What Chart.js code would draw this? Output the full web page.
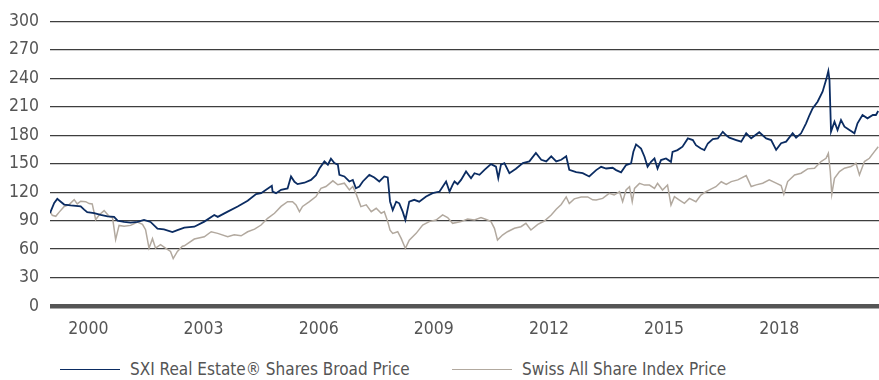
<!DOCTYPE html>
<html>
<head>
<meta charset="utf-8">
<script src="https://cdn.jsdelivr.net/npm/chart.js@4/dist/chart.umd.min.js"></script>
<style>
  html, body { margin: 0; padding: 0; background: #fff; }
  #wrap { position: relative; width: 879px; height: 380px; }
  #chart-box { position: absolute; left: 0; top: 0; width: 879px; height: 357px; }
  .legend { position: absolute; top: 357px; left: 0; width: 879px; height: 24px;
            font-family: "Liberation Sans Narrow", "DejaVu Sans Condensed", sans-serif;
            font-size: 17px; color: #555; }
  .legend-item { position: absolute; top: 0; display: flex; align-items: center; height: 24px; white-space: nowrap; }
  .legend-line { display: inline-block; width: 60px; height: 0; border-top: 1.5px solid; margin-right: 10px; }
</style>
</head>
<body>
<div id="wrap">
  <div id="chart-box"><canvas id="priceChart"></canvas></div>
  <div class="legend" id="price-legend"></div>
</div>
<script>
// SXI Real Estate Shares Broad (price) vs Swiss All Share (price), rebased to 100
const reYears = [
  1999.00, 1999.11, 1999.19, 1999.28, 1999.37, 1999.54, 1999.80, 1999.89, 1999.97, 2000.15,
  2000.32, 2000.50, 2000.67, 2000.76, 2000.93, 2001.10, 2001.28, 2001.45, 2001.62, 2001.80,
  2001.97, 2002.19, 2002.32, 2002.50, 2002.76, 2003.02, 2003.28, 2003.37, 2003.63, 2003.89,
  2004.15, 2004.37, 2004.50, 2004.63, 2004.78, 2004.80, 2004.89, 2005.02, 2005.19, 2005.28,
  2005.37, 2005.45, 2005.63, 2005.80, 2005.93, 2006.02, 2006.15, 2006.24, 2006.32, 2006.41,
  2006.50, 2006.54, 2006.67, 2006.80, 2006.89, 2006.97, 2007.06, 2007.15, 2007.32, 2007.45,
  2007.58, 2007.71, 2007.80, 2007.86, 2007.93, 2008.02, 2008.10, 2008.19, 2008.26, 2008.36,
  2008.49, 2008.62, 2008.80, 2008.97, 2009.15, 2009.32, 2009.41, 2009.49, 2009.54, 2009.62,
  2009.71, 2009.84, 2009.97, 2010.06, 2010.19, 2010.32, 2010.49, 2010.62, 2010.68, 2010.75,
  2010.84, 2010.97, 2011.14, 2011.32, 2011.49, 2011.66, 2011.80, 2011.93, 2012.06, 2012.19,
  2012.32, 2012.45, 2012.53, 2012.71, 2012.88, 2013.05, 2013.23, 2013.36, 2013.49, 2013.66,
  2013.75, 2013.88, 2014.01, 2014.14, 2014.20, 2014.27, 2014.40, 2014.49, 2014.57, 2014.66,
  2014.75, 2014.83, 2014.92, 2015.05, 2015.18, 2015.22, 2015.35, 2015.48, 2015.62, 2015.75,
  2015.83, 2015.96, 2016.05, 2016.14, 2016.27, 2016.40, 2016.53, 2016.62, 2016.70, 2016.88,
  2017.01, 2017.14, 2017.27, 2017.48, 2017.66, 2017.79, 2017.92, 2018.05, 2018.18, 2018.35,
  2018.44, 2018.57, 2018.70, 2018.79, 2018.87, 2019.00, 2019.13, 2019.22, 2019.28, 2019.31,
  2019.35, 2019.44, 2019.52, 2019.61, 2019.70, 2019.83, 2019.96, 2020.04, 2020.17, 2020.30,
  2020.44, 2020.52, 2020.58
];
const reValues = [
  98, 108.7, 113, 110, 107, 106, 105, 101.6, 99, 98,
  96, 94.6, 94, 90, 88.6, 88, 88.6, 90.7, 88.6, 81.5,
  80.8, 78, 80, 82.6, 83.6, 89, 96, 94, 99.5, 105,
  111, 118, 119, 122.5, 126.7, 120.7, 119, 122.5, 124, 136.6,
  131, 128.5, 130, 133, 138, 145, 152.5, 149, 155.3, 150.7,
  149, 138.3, 136.6, 131.3, 133, 124.2, 126, 131.3, 138.3, 135.5,
  131.3, 136.6, 135.5, 110, 101.2, 110, 108.3, 99.5, 90.7, 110,
  112, 110, 115.4, 119, 120.7, 131.3, 120.7, 127.8, 131.3, 128.5,
  133, 141.9, 134.8, 140, 138.3, 143.6, 149.6, 147, 134.8, 149,
  150.7, 140, 144.7, 150.7, 152.5, 161.3, 154.2, 152.5, 157.8, 152.5,
  154.2, 157.8, 143.6, 141.2, 140, 136.6, 143.3, 146.8, 145, 145.8,
  143.3, 141, 148.6, 150.4, 162.6, 170.4, 166, 157.4, 146.8, 152,
  155.6, 145, 153.9, 155.6, 152, 162.6, 164.4, 168, 176.7, 175,
  169.6, 166.1, 164.4, 171.4, 176, 176.7, 183.7, 180, 177.5, 175,
  173.3, 182.1, 176.8, 183.2, 176.8, 175, 164.6, 171.6, 173.3, 182.1,
  177.5, 182.1, 192.6, 201.4, 208.4, 215.4, 226, 238.2, 247.7, 238.2,
  183.9, 194.4, 185.6, 196.1, 189.1, 185.6, 182.1, 192.6, 201.4, 197.9,
  201.4, 201.4, 205.6
];

const sasYears = [
  1999.00, 1999.06, 1999.15, 1999.24, 1999.37, 1999.50, 1999.63, 1999.71, 1999.80, 1999.93,
  2000.02, 2000.10, 2000.19, 2000.28, 2000.41, 2000.54, 2000.63, 2000.71, 2000.80, 2000.93,
  2001.10, 2001.28, 2001.41, 2001.49, 2001.58, 2001.67, 2001.75, 2001.88, 2002.01, 2002.14,
  2002.21, 2002.32, 2002.45, 2002.50, 2002.76, 2003.02, 2003.20, 2003.37, 2003.63, 2003.80,
  2003.98, 2004.15, 2004.33, 2004.50, 2004.67, 2004.85, 2005.02, 2005.19, 2005.32, 2005.41,
  2005.50, 2005.58, 2005.76, 2005.93, 2006.06, 2006.19, 2006.37, 2006.50, 2006.67, 2006.80,
  2006.89, 2006.97, 2007.10, 2007.24, 2007.37, 2007.50, 2007.63, 2007.71, 2007.80, 2007.86,
  2007.93, 2008.06, 2008.15, 2008.26, 2008.36, 2008.54, 2008.71, 2008.88, 2009.06, 2009.23,
  2009.36, 2009.49, 2009.71, 2009.88, 2010.06, 2010.23, 2010.40, 2010.49, 2010.58, 2010.66,
  2010.79, 2010.92, 2011.10, 2011.27, 2011.40, 2011.53, 2011.71, 2011.88, 2012.06, 2012.19,
  2012.32, 2012.45, 2012.53, 2012.66, 2012.84, 2013.01, 2013.14, 2013.23, 2013.40, 2013.57,
  2013.70, 2013.84, 2013.92, 2014.01, 2014.10, 2014.17, 2014.23, 2014.36, 2014.49, 2014.62,
  2014.75, 2014.83, 2014.96, 2015.09, 2015.18, 2015.27, 2015.40, 2015.53, 2015.66, 2015.83,
  2015.96, 2016.09, 2016.22, 2016.35, 2016.49, 2016.62, 2016.75, 2016.92, 2017.14, 2017.27,
  2017.40, 2017.57, 2017.74, 2017.92, 2018.05, 2018.12, 2018.22, 2018.40, 2018.57, 2018.74,
  2018.92, 2019.09, 2019.22, 2019.28, 2019.33, 2019.37, 2019.44, 2019.57, 2019.70, 2019.87,
  2020.00, 2020.09, 2020.22, 2020.35, 2020.48, 2020.58
];
const sasValues = [
  99.9, 95.6, 94.6, 99, 105, 107, 112.2, 107.6, 110.5, 110,
  108, 107.6, 91, 96, 100.6, 94.6, 93, 70, 85, 84,
  85, 88.6, 86, 80.5, 61, 71, 61, 64.6, 61, 57.5,
  50, 57.5, 63, 63.5, 70.6, 73, 78.3, 76.6, 73, 75,
  74, 78.3, 81, 85.4, 92.5, 97.8, 105, 110, 110, 106.6,
  99.5, 105, 110, 115.4, 124, 126, 132, 127.8, 129.5, 122.5,
  126, 119, 104.8, 106.6, 99.5, 103, 97.8, 99.5, 89, 80,
  76.6, 78.3, 71.3, 60.7, 69.5, 76.6, 85.4, 89, 90.7, 96,
  93.2, 87.2, 89, 91.8, 90.7, 93.2, 90.7, 89, 81.9, 69.5,
  74.8, 78.3, 81.9, 83.6, 87.2, 80.1, 86, 89.6, 96, 102,
  107, 115, 108, 113, 115, 115, 112, 111.7, 113.5, 118.8,
  117, 120.5, 110, 122.3, 125.8, 110, 124, 129.3, 127.5, 127.5,
  124, 129.3, 122.3, 127.5, 106.5, 115.3, 111.7, 108.2, 113.5, 110,
  117, 120.5, 123.3, 125.8, 131, 128.2, 131.2, 133, 137.5, 126,
  127.7, 129.5, 133, 129.5, 127, 117.9, 131.2, 138.2, 140, 144.6,
  145.3, 152.3, 155.8, 161, 141.8, 117.9, 134.7, 141.8, 145.3, 147,
  150.5, 138.2, 152.3, 155.8, 162.8, 168
];

const yearTicks = [2000, 2003, 2006, 2009, 2012, 2015, 2018];
const seriesNames = ['SXI Real Estate® Shares Broad Price', 'Swiss All Share Index Price'];
const seriesColors = ['#0b2c62', '#b2a99f'];

const FONT = '"Liberation Sans Narrow", "DejaVu Sans Condensed", sans-serif';

function toPoints(xs, ys) {
  return xs.map((x, i) => ({ x, y: ys[i] }));
}

function renderLegend() {
  const el = document.getElementById('price-legend');
  const lefts = [60, 452];
  el.innerHTML = seriesNames.map((name, i) =>
    `<span class="legend-item" style="left:${lefts[i]}px"><span class="legend-line" style="border-color:${seriesColors[i]}"></span>${name}</span>`
  ).join('');
}

new Chart(document.getElementById('priceChart'), {
  type: 'line',
  data: {
    datasets: [
      { label: seriesNames[0], data: toPoints(reYears, reValues), borderColor: seriesColors[0],
        borderWidth: 1.8, pointRadius: 0, tension: 0 },
      { label: seriesNames[1], data: toPoints(sasYears, sasValues), borderColor: seriesColors[1],
        borderWidth: 1.5, pointRadius: 0, tension: 0 }
    ]
  },
  options: {
    responsive: true,
    maintainAspectRatio: false,
    animation: false,
    layout: { padding: { top: 8, right: 0, bottom: 4, left: 0 } },
    plugins: { legend: { display: false }, tooltip: { enabled: false } },
    scales: {
      x: {
        type: 'linear',
        min: 1999,
        max: 2020.6,
        afterBuildTicks: s => { s.ticks = yearTicks.map(v => ({ value: v })); },
        grid: { display: false, drawTicks: false },
        border: { display: false },
        ticks: {
          padding: 13,
          color: '#555',
          font: { family: FONT, size: 17.5 },
          callback: v => String(v),
          maxRotation: 0,
          autoSkip: false
        }
      },
      y: {
        min: 0,
        max: 300,
        afterFit: s => { s.width = 50; },
        grid: {
          drawTicks: false,
          color: ctx => ctx.tick.value === 0 ? '#555' : '#3e3e3e',
          lineWidth: ctx => ctx.tick.value === 0 ? 4.5 : 1.3
        },
        border: { display: false },
        ticks: {
          stepSize: 30,
          padding: 11,
          color: '#555',
          font: { family: FONT, size: 17.5 }
        }
      }
    }
  }
});

renderLegend();
</script>
</body>
</html>
